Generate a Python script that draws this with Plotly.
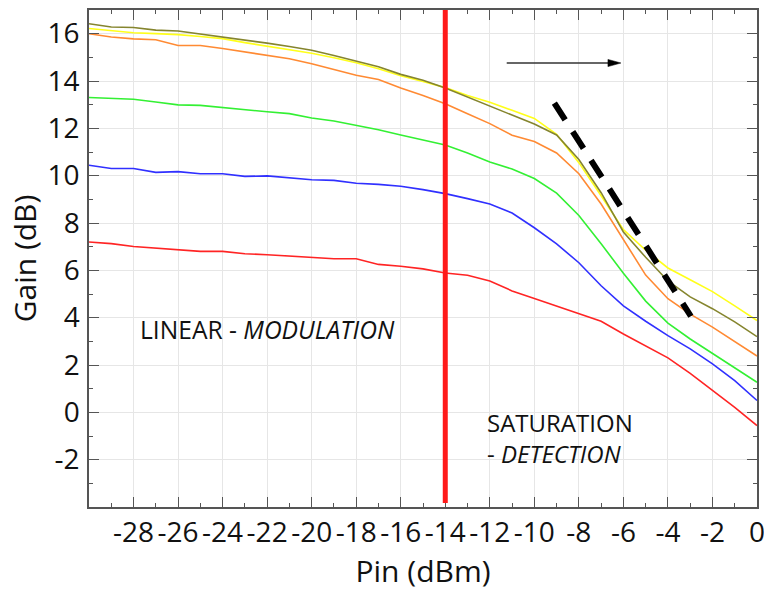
import plotly.graph_objects as go

# ---------------- data ----------------
pin = list(range(-30, 1))  # dBm

gain_olive = [16.42, 16.28, 16.26, 16.15, 16.11, 15.99, 15.87, 15.75, 15.60, 15.46,
              15.30, 15.08, 14.85, 14.60, 14.28, 14.03, 13.70, 13.32, 12.96, 12.55,
              12.18, 11.72, 10.68, 9.28, 7.62, 6.55, 5.55, 4.88, 4.38, 3.82, 3.20]
gain_yellow = [16.22, 16.13, 16.04, 16.00, 15.96, 15.88, 15.79, 15.62, 15.48, 15.33,
               15.17, 14.98, 14.77, 14.52, 14.22, 13.98, 13.72, 13.39, 13.10, 12.76,
               12.42, 11.75, 10.55, 9.15, 7.72, 6.85, 6.10, 5.60, 5.10, 4.50, 3.88]
gain_orange = [16.00, 15.86, 15.78, 15.74, 15.50, 15.50, 15.37, 15.23, 15.11, 14.94,
               14.73, 14.49, 14.24, 14.06, 13.70, 13.39, 13.04, 12.62, 12.20, 11.71,
               11.44, 10.96, 10.08, 8.80, 7.28, 5.80, 4.80, 4.15, 3.60, 3.00, 2.38]
gain_green = [13.30, 13.27, 13.23, 13.11, 12.99, 12.97, 12.87, 12.79, 12.70, 12.62,
              12.44, 12.31, 12.14, 11.94, 11.72, 11.52, 11.30, 10.96, 10.58, 10.28,
              9.88, 9.26, 8.32, 7.12, 5.88, 4.70, 3.77, 3.10, 2.50, 1.88, 1.27]
gain_blue = [10.44, 10.30, 10.30, 10.14, 10.17, 10.08, 10.08, 9.97, 9.99, 9.92,
             9.83, 9.80, 9.68, 9.63, 9.55, 9.41, 9.24, 9.03, 8.80, 8.42,
             7.80, 7.12, 6.32, 5.35, 4.50, 3.85, 3.24, 2.68, 2.05, 1.34, 0.50]
gain_red = [7.20, 7.13, 7.01, 6.93, 6.87, 6.80, 6.80, 6.70, 6.66, 6.60,
            6.56, 6.49, 6.49, 6.25, 6.17, 6.06, 5.89, 5.79, 5.55, 5.13,
            4.81, 4.50, 4.18, 3.85, 3.31, 2.82, 2.30, 1.65, 0.92, 0.21, -0.56]

series_names = ["red", "blue", "green", "orange", "yellow", "olive"]
series_values = [gain_red, gain_blue, gain_green, gain_orange, gain_yellow, gain_olive]
series_colors = ["#ff2424", "#3030ff", "#33f033", "#ff8a33", "#ffff1a", "#85852e"]

x_tick_vals = list(range(-28, 1, 2))
x_tick_text = [str(v) for v in x_tick_vals]
y_tick_vals = list(range(-2, 17, 2))
y_tick_text = [str(v) for v in y_tick_vals]

boundary_pin = -14            # red vertical line
arrow_start = (-11.24, 14.76)
arrow_end = (-6.11, 14.76)
dash_start = (-9.1, 13.07)
dash_end = (-2.97, 4.06)
linear_label_pos = (-22.0, 3.5)
sat_label_pos = (-12.2, -1.1)

x_range = [-30, 0]
y_range = [-4, 17]

# ---------------- figure ----------------
FONT = "Open Sans"
fig = go.Figure()

for name, vals, col in zip(series_names, series_values, series_colors):
    fig.add_trace(go.Scatter(x=pin, y=vals, mode="lines", name=name,
                             line=dict(color=col, width=1.6), showlegend=False))

W, H = 764, 599
ml, mr, mt, mb = 89, 7, 10, 92
pw, ph = W - ml - mr, H - mt - mb
px_per_x = pw / (x_range[1] - x_range[0])
px_per_y = ph / (y_range[1] - y_range[0])

# red boundary line
fig.add_shape(type="line", xref="x", yref="y", x0=boundary_pin, x1=boundary_pin,
              y0=y_range[0] + 0.17, y1=y_range[1], line=dict(color="#ff1a1a", width=5),
              layer="above")

# dashed saturation slope
fig.add_shape(type="line", xref="x", yref="y", x0=dash_start[0], y0=dash_start[1],
              x1=dash_end[0], y1=dash_end[1],
              line=dict(color="black", width=6, dash="20px,14px"), layer="above")

# arrow: shaft + head
head_len = 13 / px_per_x
head_half = 3.6 / px_per_y
fig.add_shape(type="line", xref="x", yref="y", x0=arrow_start[0], y0=arrow_start[1],
              x1=arrow_end[0] - head_len * 0.8, y1=arrow_end[1],
              line=dict(color="#333333", width=1.3), layer="above")
ax, ay = arrow_end
fig.add_shape(type="path", xref="x", yref="y",
              path=f"M {ax},{ay} L {ax - head_len},{ay + head_half} L {ax - head_len},{ay - head_half} Z",
              fillcolor="black", line=dict(color="black", width=0.5), layer="above")

fig.add_annotation(x=linear_label_pos[0], y=linear_label_pos[1], xref="x", yref="y",
                   text="LINEAR - <i>MODULATION</i>", showarrow=False,
                   font=dict(family=FONT, size=24.6, color="#111111"),
                   xanchor="center", yanchor="middle")
fig.add_annotation(x=sat_label_pos[0], y=sat_label_pos[1], xref="x", yref="y",
                   text="SATURATION<br>- <i>DETECTION</i>", showarrow=False,
                   font=dict(family=FONT, size=24, color="#111111"),
                   xanchor="left", yanchor="middle", align="left")

axis_common = dict(
    showline=True, linecolor="#555555", linewidth=1.5, mirror="ticks",
    ticks="inside", ticklen=10, tickwidth=1.2, tickcolor="#555555",
    showgrid=True, gridcolor="#e6e6e6", gridwidth=1, zeroline=False,
    tickfont=dict(family=FONT, size=28, color="#111111"),
    ticklabeloverflow="allow",
)

fig.update_xaxes(range=x_range, tickvals=x_tick_vals, ticktext=x_tick_text, tickangle=0,
                 minor=dict(tickvals=list(range(-29, 0, 2)), ticks="inside", ticklen=4,
                            tickcolor="#555555", showgrid=False),
                 title=dict(text="Pin (dBm)", font=dict(family=FONT, size=30, color="#111111"),
                            standoff=12),
                 ticklabelstandoff=0,
                 **axis_common)
fig.update_yaxes(range=y_range, tickvals=y_tick_vals, ticktext=y_tick_text,
                 minor=dict(tickvals=list(range(-3, 17, 2)), ticks="inside", ticklen=4,
                            tickcolor="#555555", showgrid=False),
                 title=dict(text="Gain (dB)", font=dict(family=FONT, size=30, color="#111111"),
                            standoff=2),
                 ticklabelstandoff=2,
                 **axis_common)

fig.update_layout(width=W, height=H, margin=dict(l=ml, r=mr, t=mt, b=mb, autoexpand=False),
                  paper_bgcolor="white", plot_bgcolor="white", showlegend=False)

fig.write_html("out.html", config={"displayModeBar": False},
               post_script="document.body.style.margin='0px';document.body.style.padding='0px';")
